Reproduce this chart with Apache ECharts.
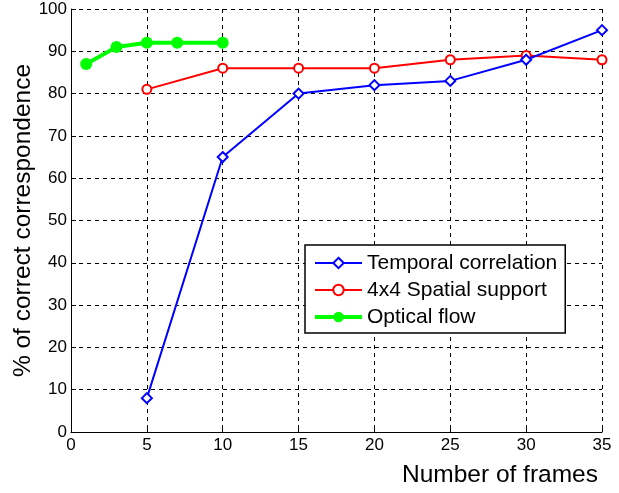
<!DOCTYPE html>
<html>
<head>
<meta charset="utf-8">
<script src="https://cdn.jsdelivr.net/npm/echarts@6/dist/echarts.min.js"></script>
<style>
html,body{margin:0;padding:0;background:#fff;}
#chart{width:619px;height:493px;}
</style>
</head>
<body>
<div id="chart"></div>
<script>
// Data
var temporalX = [5, 10, 15, 20, 25, 30, 35];
var temporalY = [8, 65, 80, 82, 83, 88, 95];
var spatialX = [5, 10, 15, 20, 25, 30, 35];
var spatialY = [81, 86, 86, 86, 88, 89, 88];
var flowX = [1, 3, 5, 7, 10];
var flowY = [87, 91, 92, 92, 92];
var seriesNames = ['Temporal correlation', '4x4 Spatial support', 'Optical flow'];
var xLabel = 'Number of frames';
var yLabel = '% of correct correspondence';

function pairs(xs, ys) { return xs.map(function (x, i) { return [x, ys[i]]; }); }

var FONT = '"Liberation Sans", Arial, Helvetica, sans-serif';
var chart = echarts.init(document.getElementById('chart'));
chart.setOption({
  animation: false,
  backgroundColor: '#fff',
  textStyle: { fontFamily: FONT },
  grid: { left: 71, right: 17, top: 9, bottom: 61, containLabel: false, outerBoundsMode: 'none' },
  xAxis: {
    type: 'value', min: 0, max: 35, interval: 5,
    name: xLabel, nameLocation: 'end', nameGap: -4, nameMoveOverlap: false,
    nameTextStyle: { fontFamily: FONT, fontSize: 24.5, color: '#000', align: 'right', verticalAlign: 'top', padding: [31, 0, 0, 0] },
    axisLine: { lineStyle: { color: '#000', width: 1 } },
    axisTick: { inside: true, length: 5, lineStyle: { color: '#000' } },
    axisLabel: { fontFamily: FONT, fontSize: 17, color: '#000', margin: 5 },
    splitLine: { show: true, lineStyle: { color: '#000', type: [4, 4], width: 1 } }
  },
  yAxis: {
    type: 'value', min: 0, max: 100, interval: 10,
    name: yLabel, nameLocation: 'middle', nameGap: 35, nameMoveOverlap: false,
    nameTextStyle: { fontFamily: FONT, fontSize: 24.5, color: '#000' },
    axisLine: { show: true, lineStyle: { color: '#000', width: 1 } },
    axisTick: { show: true, inside: true, length: 5, lineStyle: { color: '#000' } },
    axisLabel: { fontFamily: FONT, fontSize: 17, color: '#000', margin: 4 },
    splitLine: { show: true, lineStyle: { color: '#000', type: [4, 4], width: 1 } }
  },
  legend: {
    orient: 'vertical', left: 305, top: 245,
    backgroundColor: '#fff', borderColor: '#000', borderWidth: 1.5, borderRadius: 0,
    padding: [7, 8, 5, 8], itemGap: 5, itemWidth: 47, itemHeight: 13,
    textStyle: { fontFamily: FONT, fontSize: 21, color: '#000', lineHeight: 22 },
    data: [
      { name: seriesNames[0], lineStyle: { width: 2 } },
      { name: seriesNames[1], lineStyle: { width: 2 } },
      { name: seriesNames[2], lineStyle: { width: 4 } }
    ]
  },
  series: [
    {
      name: seriesNames[0], type: 'line', data: pairs(temporalX, temporalY),
      symbol: 'emptyDiamond', symbolSize: 10,
      lineStyle: { color: '#0000ff', width: 2 },
      itemStyle: { color: '#0000ff', borderWidth: 2 },
      z: 3
    },
    {
      name: seriesNames[1], type: 'line', data: pairs(spatialX, spatialY),
      symbol: 'emptyCircle', symbolSize: 9,
      lineStyle: { color: '#ff0000', width: 2 },
      itemStyle: { color: '#ff0000', borderWidth: 2 },
      z: 2
    },
    {
      name: seriesNames[2], type: 'line', data: pairs(flowX, flowY),
      symbol: 'circle', symbolSize: 12,
      lineStyle: { color: '#00ff00', width: 4 },
      itemStyle: { color: '#00ff00' },
      z: 4
    }
  ]
});
</script>
</body>
</html>
